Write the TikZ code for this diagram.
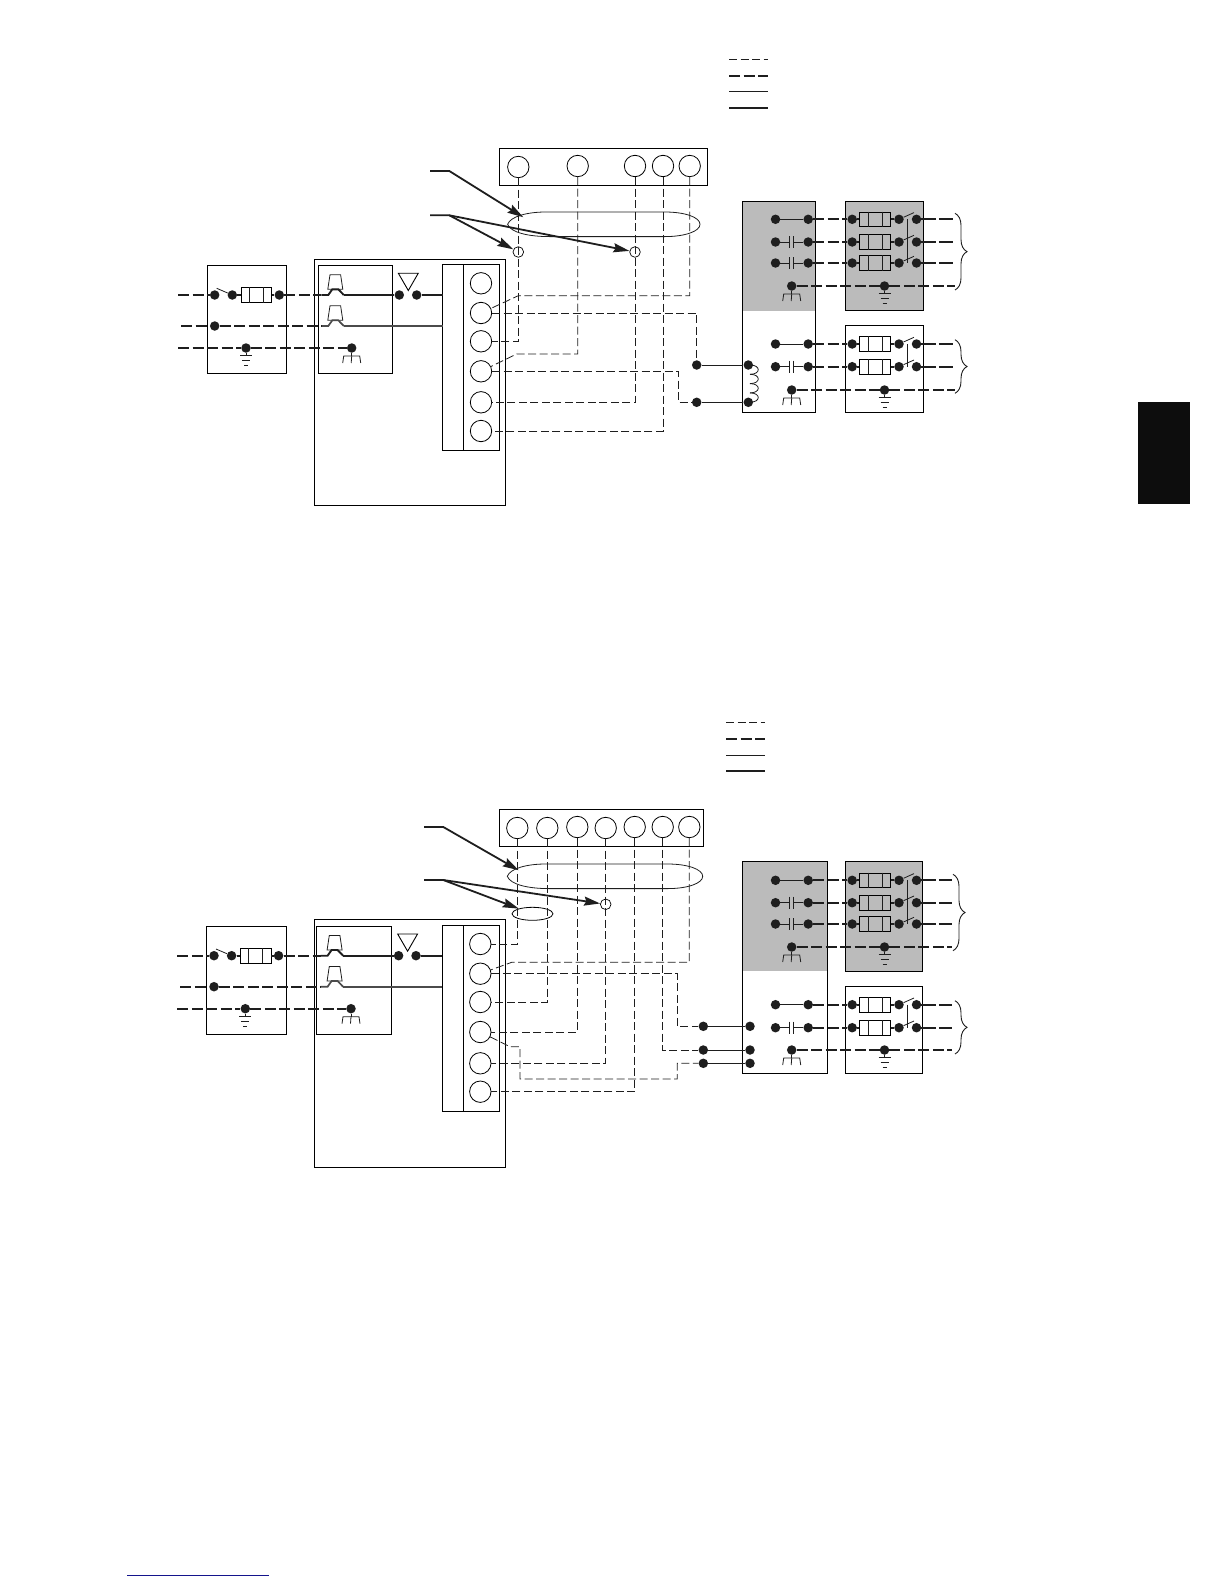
\documentclass[tikz,border=0pt]{standalone}
\usepackage{xcolor}
\usepackage{tikz}
\usetikzlibrary{shapes,arrows.meta,positioning,calc,decorations.pathreplacing}

\definecolor{panelgray}{HTML}{BBBBBB}
\definecolor{inkblack}{HTML}{1E1E1E}
\definecolor{footblue}{HTML}{14148C}

% Box with its corner at a point
\newcommand{\boxnode}[6][]{\node[unitbox,#1,minimum width=#5pt,minimum height=#6pt] (#2) at (#3,#4) {};}
% Fuse with two dividers
\newcommand{\fusenode}[3]{
    \node[fusebox] (#1) at (#2,#3) {};
    \draw [solidline] ([xshift=-7pt]#1.north) -- ([xshift=-7pt]#1.south);
    \draw [solidline] ([xshift=7pt]#1.north) -- ([xshift=7pt]#1.south);
}
% Long flat loop round a wire bundle
\newcommand{\loopsym}[2]{
    \begin{scope}[shift={(#1.center)}]
        \draw [solidline] (-#2,0) .. controls (-#2+3,-8) and (-#2+20,-12.3) .. (-#2+38,-12.3) -- (#2-35,-12.3)
            .. controls (#2-15,-12.3) and (#2,-7) .. (#2,0) .. controls (#2,7) and (#2-15,12.3) .. (#2-35,12.3)
            -- (-#2+42,12.3) .. controls (-#2+20,12.3) and (-#2+3,8) .. cycle;
    \end{scope}
}
% Earth and chassis marks under a dot
\newcommand{\earthsym}[1]{
    \draw [solidline] (#1) -- ++(0,7.5) ++(-6,0) -- ++(12,0) ++(-10,5) -- ++(8,0) ++(-6,5) -- ++(4,0);
}
\newcommand{\chassissym}[1]{
    \draw [solidline] (#1) -- ++(0,8);
    \draw [solidline] ($(#1)+(-9,15)$) -- ++(1,-7) -- ++(16,0) -- ++(1,7);
    \draw [solidline] (#1) ++(0,8) -- ++(-0.5,7);
}
% Plug over a wire, c is the centre
\newcommand{\plugsym}[4]{
    \draw [solidline] (#2-5.3,#3-20.3) -- (#2+5.3,#3-20.3) -- (#2+7.5,#3-5.7) -- (#2-7.5,#3-5.7) -- cycle;
    \coordinate (#1l) at (#2-14,#3);
    \coordinate (#1r) at (#2+8.5,#3);
    \draw [#4] (#1l) -- (#2-7,#3) -- (#2-3,#3-5.7) -- (#2+3,#3-5.7) -- (#1r);
}
% One line of the outdoor bank
\newcommand{\feedrow}[3]{
    \node[term] (#1a) at (775.5,#2) {};
    \node[term] (#1b) at (808.2,#2) {};
    \node[term] (#1c) at (852.2,#2) {};
    \fusenode{#1f}{875}{#2}
    \node[term] (#1d) at (899,#2) {};
    \node[term] (#1e) at (916.5,#2) {};
    \coordinate (#1z) at (#3,#2);
    \coordinate (#1g) at (907.7,#2);
    \draw [powerdash] (#1b) -- (#1c);
    \draw [powerline] (#1c) -- (#1f);
    \draw [powerline] (#1f) -- (#1d);
    \draw [solidline] (#1d) -- ++(15,-6.7);
    \draw [taildash] (#1e) -- (#1z);
}
% Capacitor between the first two dots of a line
\newcommand{\capsym}[1]{
    \draw [solidline] (#1a) -- ++(13.5,0) ++(0,-6) -- ++(0,12);
    \draw [solidline] (#1b) -- ++(-14.8,0) ++(0,-6) -- ++(0,12);
}
\newcommand{\groundrow}[3]{
    \node[term] (#1a) at (791.7,#2) {};
    \node[term] (#1b) at (884.5,#2) {};
    \coordinate (#1z) at (#3,#2);
    \draw [powerdash] (#1a) -- (#1b);
    \draw [powerdash] (#1b) -- (#1z);
    \chassissym{#1a}
    \earthsym{#1b}
}
% Disconnect and plugs on the left
\newcommand{\intakeside}[3]{
    \begin{scope}[shift={(#2,#3)}]
        \node[term] (#1a1) at (214.7,295) {};
        \node[term] (#1a2) at (232.3,295) {};
        \fusenode{#1fa}{256.5}{295}
        \node[term] (#1a3) at (279.3,295) {};
        \node[term] (#1a4) at (399.3,295) {};
        \node[term] (#1a5) at (416.7,295) {};
        \node[term] (#1n1) at (214.7,326) {};
        \node[term] (#1e1) at (246,348) {};
        \node[term] (#1e2) at (351.7,348) {};
        \coordinate (#1w1) at (178,295);
        \coordinate (#1w2) at (181,326);
        \coordinate (#1w3) at (178,348);
        \coordinate (#1s1) at (442.6,295);
        \coordinate (#1s2) at (442.6,326);
        \node[draw, regular polygon, regular polygon sides=3, shape border rotate=180, inner sep=0pt, minimum size=23pt, line width=0.9pt] (#1tri) at (408.3,279) {};
        \plugsym{#1p1}{335.3}{295}{powerline}
        \plugsym{#1p2}{335.3}{326}{neutralline}
        \draw [powerdash] (#1w1) -- (#1a1);
        \draw [solidline] (#1a2) -- ++(-15.6,-6.7);
        \draw [powerline] (#1a2) -- (#1fa);
        \draw [powerline] (#1fa) -- (#1a3);
        \draw [powerdash] (#1a3) -- (#1p1l);
        \draw [powerline] (#1p1r) -- (#1a4);
        \draw [powerline] (#1a5) -- (#1s1);
        \draw [powerdash] (#1w2) -- (#1n1);
        \draw [powerdash] (#1n1) -- (#1p2l);
        \draw [neutralline] (#1p2r) -- (#1s2);
        \draw [powerdash] (#1w3) -- (#1e1);
        \draw [powerdash] (#1e1) -- (#1e2);
        \earthsym{#1e1}
        \chassissym{#1e2}
    \end{scope}
}

\begin{document}
\begin{tikzpicture}[x=1pt, y=-1pt, >={Stealth[length=16pt,width=9pt,inset=2pt]}]
    % Define styles
    \tikzstyle{unitbox} = [rectangle, draw, anchor=north west, inner sep=0pt, line width=1pt]
    \tikzstyle{fusebox} = [rectangle, draw, inner sep=0pt, minimum width=30.4pt, minimum height=14.5pt, line width=0.9pt]
    \tikzstyle{term} = [circle, fill=inkblack, inner sep=0pt, minimum size=9.5pt]
    \tikzstyle{stud} = [circle, draw, inner sep=0pt, minimum size=21.4pt, line width=0.8pt]
    \tikzstyle{tap} = [circle, draw, inner sep=0pt, minimum size=10.6pt, line width=0.7pt]
    \tikzstyle{ring} = [ellipse, inner sep=0pt, line width=0.8pt]
    \tikzstyle{wire} = [draw=inkblack, line width=0.8pt, dash pattern=on 8pt off 3.5pt]
    \tikzstyle{solidline} = [draw=inkblack, line width=0.8pt]
    \tikzstyle{powerline} = [draw=inkblack, line width=1.9pt]
    \tikzstyle{neutralline} = [draw=inkblack!80, line width=1.7pt]
    \tikzstyle{powerdash} = [draw=inkblack, line width=1.9pt, dash pattern=on 11pt off 3.5pt]
    \tikzstyle{taildash} = [draw=inkblack, line width=1.9pt, dash pattern=on 14.5pt off 3pt]
    \tikzstyle{leader} = [draw=inkblack, line width=1.8pt]
    \tikzstyle{bracemark} = [draw=inkblack, line width=0.9pt, decorate, decoration={brace, amplitude=12pt}]

    \useasboundingbox (0,0) rectangle (1224,1584);

    % Side tab and foot rule
    \fill [black!95] (1138,402) rectangle (1190,504);
    \coordinate (footl) at (127,1575);
    \coordinate (footr) at (269,1575);
    \draw [footblue, line width=1pt] (footl) -- (footr);

    % ---- Upper diagram ----
    % Legend
    \foreach \n/\y/\s in {1/59.3/wire,2/75.7/powerdash,3/91.3/solidline,4/107.7/powerline} {
        \coordinate (ukl\n) at (729,\y);
        \coordinate (ukr\n) at (767.7,\y);
        \draw [\s] (ukl\n) -- (ukr\n);
    }

    % Panels
    \boxnode[fill=panelgray, draw=none]{ugray}{742.3}{201.3}{73}{109.4}
    \boxnode{uair}{742.3}{201.3}{73}{211}
    \boxnode[fill=panelgray]{uhigh}{845.3}{201.3}{78}{109}
    \boxnode{ulow}{845.3}{325.3}{78}{87}
    \boxnode{udisc}{207.3}{265.3}{79}{108}
    \boxnode{ufurn}{314.3}{259.3}{190.8}{246}
    \boxnode{uplug}{318.3}{265.3}{74}{108}
    \boxnode{ustrip}{442.3}{264.3}{57}{186}
    \boxnode{ubar}{463.3}{264.3}{36}{186}
    \boxnode{utop}{499.3}{148.3}{208}{37}

    % Terminals
    \foreach \n/\x/\y in {1/518.3/167,2/577.7/166,3/635/166,4/663/166,5/689.7/166}
        \node[stud] (ut\n) at (\x,\y) {};
    \foreach \n/\y in {1/283.3,2/313,3/341.3,4/371.3,5/402.3,6/431}
        \node[stud] (uc\n) at (481,\y) {};
    \node[ring, minimum width=192.4pt, minimum height=24.6pt] (uring) at (603.8,224.3) {};
    \loopsym{uring}{96.2}
    \node[tap] (utap1) at (518.3,252) {};
    \node[tap] (utap2) at (635,252) {};
    \node[term] (ud1) at (696.7,365) {};
    \node[term] (ud2) at (696.7,402.3) {};
    \node[term] (uh1) at (748.3,365) {};
    \node[term] (uh2) at (748.3,402.3) {};

    \intakeside{u}{0}{0}

    % Control wires
    \coordinate (ubend2) at (518.3,295.7);
    \coordinate (ubend4) at (516.7,354);
    \coordinate (ukink) at (678.3,402.3);
    \draw [wire] (ut1) |- (uc3);
    \draw [wire] (ut2) |- (ubend4) -- (uc4);
    \draw [wire] (ut3) |- (uc5);
    \draw [wire] (ut4) |- (uc6);
    \draw [wire] (ut5) |- (ubend2) -- (uc2);
    \draw [wire] (uc2) -| (ud1);
    \draw [wire] (uc4) -| (ukink) -- (ud2);
    \draw [solidline] (ud1) -- (uh1);
    \draw [solidline] (ud2) -- (uh2);
    \foreach \k in {0,1,2,3}
        \draw [solidline] (750,{365+\k*9.3}) .. controls (761,{365+\k*9.3}) and (761,{374.3+\k*9.3}) .. (750,{374.3+\k*9.3});

    % Leaders
    \coordinate (ulead1) at (430,171);
    \coordinate (uelb1) at (449.3,171);
    \coordinate (ulead2) at (430,215.3);
    \coordinate (uelb2) at (449.3,215.3);
    \draw [leader, ->] (ulead1) -- (uelb1) -- (uring.175);
    \draw [leader, ->] (ulead2) -- (uelb2) -- (utap1);
    \draw [leader, ->] (uelb2) -- (utap2);

    % Outdoor bank
    \feedrow{ur1}{219.3}{955}
    \feedrow{ur2}{242}{955}
    \feedrow{ur3}{263}{955}
    \draw [solidline] (ur1a) -- (ur1b);
    \capsym{ur2}
    \capsym{ur3}
    \draw [solidline] (ur1g) -- (ur3g);
    \groundrow{ur4}{286}{955}
    \feedrow{us1}{344}{955}
    \feedrow{us2}{366.7}{955}
    \draw [solidline] (us1a) -- (us1b);
    \capsym{us2}
    \draw [solidline] (us1g) -- (us2g);
    \groundrow{us3}{390}{955}
    \coordinate (ubr1a) at (955,213.3);
    \coordinate (ubr1b) at (955,290);
    \coordinate (ubr2a) at (955,339.7);
    \coordinate (ubr2b) at (955,393.3);
    \draw [bracemark] (ubr1a) -- (ubr1b);
    \draw [bracemark] (ubr2a) -- (ubr2b);

    % ---- Lower diagram ----
    % Legend
    \foreach \n/\y/\s in {1/722.3/wire,2/738.7/powerdash,3/755/solidline,4/770.7/powerline} {
        \coordinate (lkl\n) at (726,\y);
        \coordinate (lkr\n) at (764.7,\y);
        \draw [\s] (lkl\n) -- (lkr\n);
    }

    % Panels
    \boxnode[fill=panelgray, draw=none]{lgray}{742.3}{861.3}{85}{109.4}
    \boxnode{lair}{742.3}{861.3}{85}{212}
    \boxnode[fill=panelgray]{lhigh}{845.3}{861.3}{77}{110}
    \boxnode{llow}{845.3}{986.3}{77}{87}
    \boxnode{ldisc}{206.3}{926.3}{80}{108}
    \boxnode{lfurn}{314.3}{919.3}{190.8}{248}
    \boxnode{lplug}{316.3}{926.3}{75}{108}
    \boxnode{lstrip}{442.3}{925.3}{57}{186}
    \boxnode{lbar}{463.3}{925.3}{36}{186}
    \boxnode{ltop}{499.3}{809.3}{204}{37}

    % Terminals
    \foreach \n/\x/\y in {1/517.3/828,2/547.3/828,3/577.3/827,4/605.7/828,5/634.7/827,6/662.7/827,7/689.3/827}
        \node[stud] (lt\n) at (\x,\y) {};
    \foreach \n/\y in {1/944,2/973.7,3/1002,4/1032,5/1063.3,6/1091.7}
        \node[stud] (lc\n) at (480.3,\y) {};
    \node[ring, minimum width=195.4pt, minimum height=24.6pt] (lring) at (605,876.3) {};
    \loopsym{lring}{97.7}
    \node[ring, draw, minimum width=41pt, minimum height=13pt] (lring2) at (532.5,913.8) {};
    \node[tap] (ltap) at (605.7,904.3) {};
    \foreach \n/\y in {1/1026.3,2/1050,3/1063.3} {
        \node[term] (ld\n) at (703.3,\y) {};
        \node[term] (lh\n) at (750,\y) {};
        \draw [solidline] (ld\n) -- (lh\n);
    }

    \intakeside{l}{-0.7}{660.7}

    % Control wires
    \coordinate (lbend2) at (511.7,962.3);
    \coordinate (lbend4) at (510,1046.7);
    \coordinate (ldrop) at (520,1046.7);
    \coordinate (lfoot) at (677.3,1079);
    \coordinate (lkink1) at (677.3,1026.3);
    \coordinate (lkink2) at (677.3,1063.3);
    \draw [wire] (lt1) |- (lc1);
    \draw [wire] (lt2) |- (lc3);
    \draw [wire] (lt3) |- (lc4);
    \draw [wire] (lt4) |- (lc5);
    \draw [wire] (lt5) |- (lc6);
    \draw [wire] (lt6) |- (ld2);
    \draw [wire] (lt7) |- (lbend2) -- (lc2);
    \draw [wire] (lc2) -| (lkink1) -- (ld1);
    \draw [wire] (lc4) -- (lbend4) -- (ldrop) |- (lfoot) -- (lkink2) -- (ld3);

    % Leaders
    \coordinate (llead1) at (424,827);
    \coordinate (lelb1) at (443.3,827);
    \coordinate (llead2) at (424,880);
    \coordinate (lelb2) at (443.3,880);
    \draw [leader, ->] (llead1) -- (lelb1) -- (lring.176);
    \draw [leader, ->] (llead2) -- (lelb2) -- (lring2);
    \draw [leader, ->] (lelb2) -- (ltap);

    % Outdoor bank
    \feedrow{lr1}{880.3}{952.3}
    \feedrow{lr2}{902.7}{952.3}
    \feedrow{lr3}{924}{952.3}
    \draw [solidline] (lr1a) -- (lr1b);
    \capsym{lr2}
    \capsym{lr3}
    \draw [solidline] (lr1g) -- (lr3g);
    \groundrow{lr4}{947}{952.3}
    \feedrow{ls1}{1004.7}{952.3}
    \feedrow{ls2}{1027.7}{952.3}
    \draw [solidline] (ls1a) -- (ls1b);
    \capsym{ls2}
    \draw [solidline] (ls1g) -- (ls2g);
    \groundrow{ls3}{1050}{952.3}
    \coordinate (lbr1a) at (953,874.3);
    \coordinate (lbr1b) at (953,950.7);
    \coordinate (lbr2a) at (955,1000.7);
    \coordinate (lbr2b) at (955,1054);
    \draw [bracemark] (lbr1a) -- (lbr1b);
    \draw [bracemark] (lbr2a) -- (lbr2b);
\end{tikzpicture}
\end{document}
